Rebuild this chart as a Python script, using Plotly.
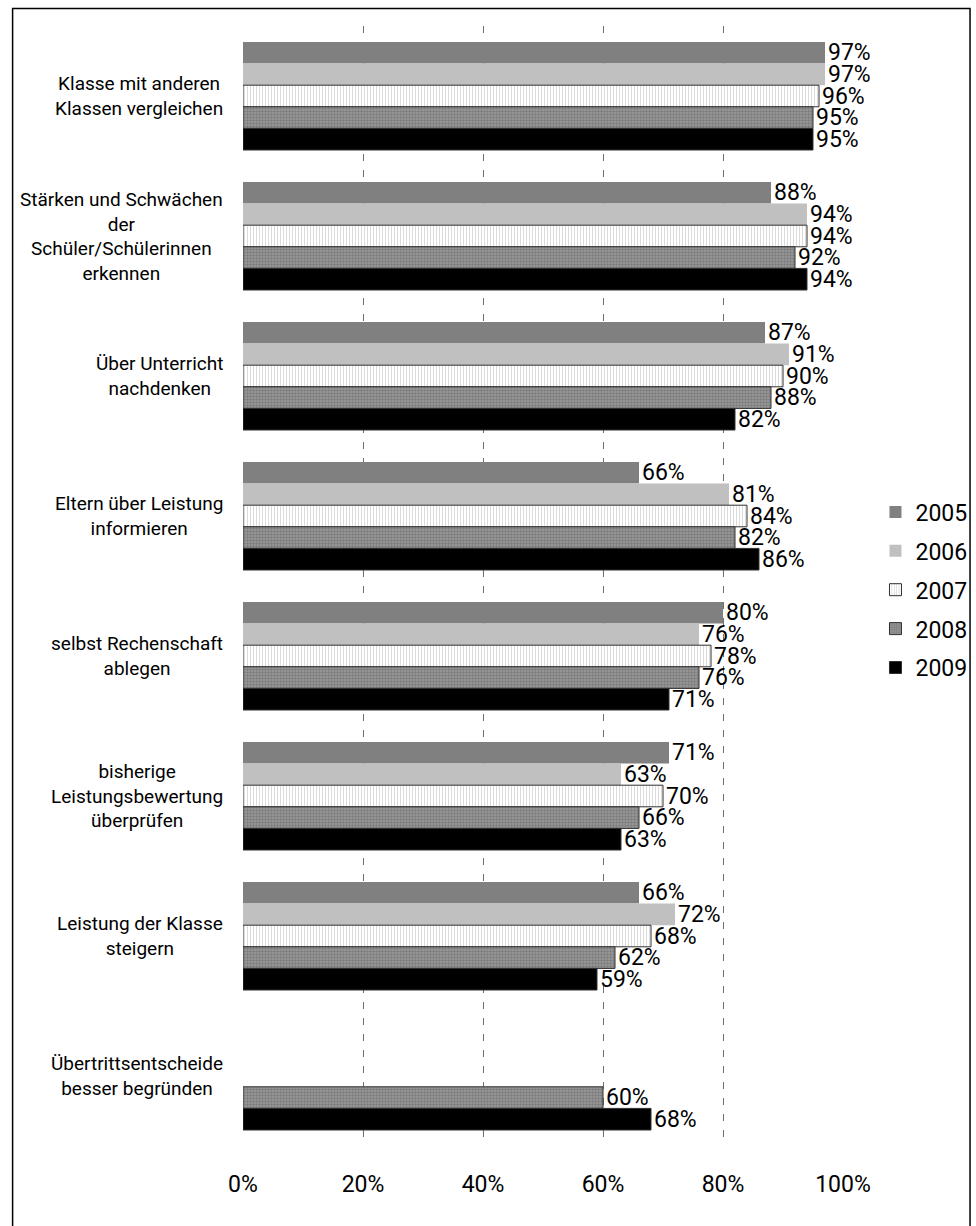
import plotly.graph_objects as go

# Survey items (category axis), one label line per list element
categories = [
    ["Klasse mit anderen", "Klassen vergleichen"],
    ["Stärken und Schwächen", "der", "Schüler/Schülerinnen", "erkennen"],
    ["Über Unterricht", "nachdenken"],
    ["Eltern über Leistung", "informieren"],
    ["selbst Rechenschaft", "ablegen"],
    ["bisherige", "Leistungsbewertung", "überprüfen"],
    ["Leistung der Klasse", "steigern"],
    ["Übertrittsentscheide", "besser begründen"],
]

years = ["2005", "2006", "2007", "2008", "2009"]

# Share of agreement in percent, one list per year
v2005 = [97, 88, 87, 66, 80, 71, 66, None]
v2006 = [97, 94, 91, 81, 76, 63, 72, None]
v2007 = [96, 94, 90, 84, 78, 70, 68, None]
v2008 = [95, 92, 88, 82, 76, 66, 62, 60]
v2009 = [95, 94, 82, 86, 71, 63, 59, 68]
values = [v2005, v2006, v2007, v2008, v2009]

x_ticks = [0, 20, 40, 60, 80, 100]

FONT = "Roboto, Liberation Sans, sans-serif"

cat_keys = [" ".join(c) for c in categories]

styles = {
    "2005": dict(color="#808080", line=dict(width=0)),
    "2006": dict(color="#c0c0c0", line=dict(width=0)),
    "2007": dict(color="#ffffff", line=dict(width=1, color="#303030"),
                 pattern=dict(shape="|", fgcolor="#b8b8b8", bgcolor="#ffffff",
                              size=3, solidity=0.35)),
    "2008": dict(color="#8c8c8c", line=dict(width=1, color="#303030"),
                 pattern=dict(shape=".", fgcolor="#5a5a5a", bgcolor="#9c9c9c",
                              size=3, solidity=0.5)),
    "2009": dict(color="#000000", line=dict(width=1, color="#303030")),
}

fig = go.Figure()
for yr, vals in zip(years, values):
    fig.add_trace(go.Bar(
        name=yr,
        y=cat_keys,
        x=vals,
        orientation="h",
        marker=styles[yr],
        text=[f"{v}%" if v is not None else "" for v in vals],
        textposition="outside",
        textfont=dict(family=FONT, size=23, color="#000000"),
        constraintext="none",
        cliponaxis=False,
        legendgroup=yr,
    ))

# Category labels: centred lines, block right-aligned next to the axis
for key, lines in zip(cat_keys, categories):
    fig.add_annotation(
        x=-0.03, xref="paper", xanchor="right",
        y=key, yref="y", yanchor="middle",
        text="<br>".join(lines), align="center", showarrow=False,
        font=dict(family=FONT, size=19, color="#000000"),
    )

# Frame around the whole chart
fig.add_shape(type="rect", xref="paper", yref="paper",
              x0=-0.384, x1=1.2117, y0=-0.3, y1=1.0156,
              line=dict(color="#000000", width=1.5), layer="below")

fig.update_layout(
    width=976, height=1226,
    margin=dict(l=243, r=133, t=26, b=80, autoexpand=False),
    paper_bgcolor="#ffffff", plot_bgcolor="#ffffff",
    barmode="group", bargap=0.2286, bargroupgap=0,
    font=dict(family=FONT, size=23, color="#000000"),
    showlegend=True,
    legend=dict(xref="container", yref="container",
                x=0.897, xanchor="left", y=0.5188, yanchor="middle",
                traceorder="grouped", tracegroupgap=6,
                font=dict(family=FONT, size=23, color="#000000"),
                bgcolor="rgba(0,0,0,0)", itemwidth=30),
    xaxis=dict(range=[0, 100], tickvals=x_ticks,
               ticktext=[f"{t}%" for t in x_ticks],
               showgrid=True, gridcolor="#707070", gridwidth=1,
               griddash="7px,9px", zeroline=False, showline=False,
               ticks="", ticklabelstandoff=22,
               tickfont=dict(family=FONT, size=23, color="#000000")),
    yaxis=dict(autorange="reversed", showticklabels=False, showgrid=False,
               zeroline=False, showline=False, ticks=""),
)

fig.write_html("out.html")
